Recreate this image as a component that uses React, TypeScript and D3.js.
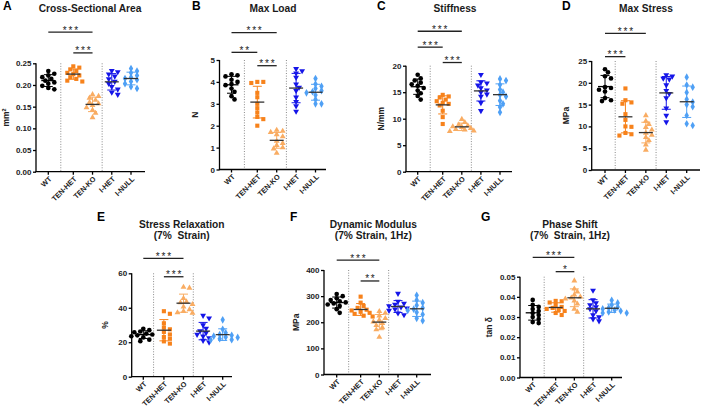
import { useEffect, useRef } from 'react';
import * as d3 from 'd3';

// genotype groups, in plotting order
const groups = ['WT', 'TEN-HET', 'TEN-KO', 'I-HET', 'I-NULL'];
const groupColors = ['#000000', '#F7821B', '#F9AC62', '#1515E8', '#4FA0F5'];
const groupSymbols = [d3.symbolCircle, d3.symbolSquare, d3.symbolTriangle, d3.symbolTriangle, d3.symbolDiamond];

// per-animal measurements, one array per group
const csaValues = [
  [0.232, 0.226, 0.222, 0.218, 0.214, 0.21, 0.206, 0.203, 0.198, 0.193, 0.19],
  [0.243, 0.24, 0.236, 0.232, 0.228, 0.225, 0.222, 0.218, 0.214, 0.21, 0.208],
  [0.178, 0.174, 0.17, 0.165, 0.16, 0.157, 0.153, 0.148, 0.142, 0.135, 0.125],
  [0.233, 0.23, 0.225, 0.22, 0.214, 0.208, 0.203, 0.196, 0.19, 0.183, 0.178],
  [0.238, 0.232, 0.228, 0.222, 0.218, 0.215, 0.212, 0.208, 0.203, 0.196, 0.192],
];
const maxLoadValues = [
  [4.35, 4.3, 4.25, 4.1, 4.0, 3.9, 3.85, 3.7, 3.55, 3.35, 3.2],
  [4.0, 4.0, 3.95, 3.5, 3.3, 3.0, 2.8, 2.6, 2.4, 2.3, 2.0],
  [1.8, 1.75, 1.7, 1.6, 1.5, 1.3, 1.2, 1.1, 1.0, 0.95, 0.75],
  [4.6, 4.5, 4.4, 4.2, 3.9, 3.75, 3.6, 3.3, 3.1, 2.9, 2.65],
  [4.15, 3.9, 3.8, 3.7, 3.6, 3.55, 3.5, 3.4, 3.2, 3.0, 3.0],
];
const stiffnessValues = [
  [18.3, 17.6, 17.2, 16.8, 16.5, 16.2, 15.8, 15.3, 14.8, 14.3, 13.6],
  [14.5, 14.2, 14.0, 13.6, 13.3, 13.0, 12.8, 12.5, 11.5, 10.3, 9.0],
  [9.9, 9.3, 8.9, 8.7, 8.5, 8.4, 8.2, 8.0, 7.9, 7.7, 7.6],
  [18.3, 16.9, 16.7, 16.3, 15.8, 15.4, 15.0, 14.6, 14.2, 13.0, 11.5],
  [17.5, 17.2, 16.4, 15.5, 15.0, 14.5, 14.2, 13.4, 12.8, 12.2, 11.2],
];
const maxStressValues = [
  [23.1, 22.4, 21.5, 21.0, 19.0, 18.8, 18.4, 18.0, 16.5, 16.0, 15.8],
  [18.7, 16.0, 15.5, 15.2, 12.8, 11.5, 10.0, 9.9, 8.5, 8.2, 7.9],
  [12.5, 11.2, 10.5, 9.8, 9.2, 8.5, 8.0, 7.5, 6.8, 5.8, 4.6],
  [21.8, 21.5, 21.0, 20.8, 19.5, 18.2, 17.5, 16.5, 14.2, 12.5, 11.0],
  [21.3, 19.5, 19.0, 17.8, 16.2, 15.6, 15.0, 14.5, 12.5, 10.6, 10.2],
];
const relaxationValues = [
  [27.8, 27.0, 26.2, 25.8, 25.0, 24.5, 24.0, 23.5, 22.8, 21.5, 20.6],
  [38.0, 36.5, 31.0, 28.5, 27.5, 26.0, 24.5, 23.0, 22.0, 20.5, 19.2],
  [52.0, 51.5, 45.5, 43.5, 43.0, 42.0, 40.5, 39.0, 38.0, 37.2, 37.0],
  [35.5, 34.0, 30.0, 28.0, 26.5, 25.5, 24.5, 23.5, 22.5, 21.0, 20.0],
  [33.0, 27.5, 25.5, 24.5, 24.0, 23.5, 23.0, 22.8, 22.0, 21.5, 21.3],
];
const dynModulusValues = [
  [308, 300, 292, 285, 280, 276, 272, 268, 262, 250, 236],
  [298, 275, 262, 255, 248, 245, 240, 236, 232, 225, 222],
  [242, 235, 225, 215, 208, 202, 196, 188, 180, 172, 143],
  [310, 280, 272, 268, 262, 258, 254, 250, 245, 235, 228],
  [303, 285, 275, 265, 255, 250, 245, 238, 230, 215, 206],
];
const phaseShiftValues = [
  [0.0385, 0.036, 0.035, 0.034, 0.033, 0.032, 0.031, 0.03, 0.029, 0.0275, 0.027],
  [0.038, 0.0378, 0.0372, 0.036, 0.035, 0.0345, 0.034, 0.0335, 0.033, 0.032, 0.031],
  [0.048, 0.044, 0.0425, 0.041, 0.04, 0.0395, 0.039, 0.038, 0.0365, 0.034, 0.0325],
  [0.0432, 0.0385, 0.037, 0.036, 0.035, 0.034, 0.033, 0.031, 0.03, 0.029, 0.028],
  [0.0383, 0.037, 0.036, 0.035, 0.0345, 0.034, 0.0335, 0.033, 0.0325, 0.032, 0.032],
];

// significance brackets: [from group, to group, bracket height in data units, label]
const csaSig = [[0, 2, 0.322, '***'], [1, 2, 0.274, '***']];
const maxLoadSig = [[0, 2, 6.25, '***'], [0, 1, 5.35, '**'], [1, 2, 4.74, '***']];
const stiffnessSig = [[0, 2, 26.5, '***'], [0, 1, 23.5, '***'], [1, 2, 20.6, '***']];
const maxStressSig = [[0, 2, 31.35, '***'], [0, 1, 26.0, '***']];
const relaxationSig = [[0, 2, 68.7, '***'], [1, 2, 58.0, '***']];
const dynModulusSig = [[0, 2, 438, '***'], [1, 2, 358, '**']];
const phaseShiftSig = [[0, 2, 0.0596, '***'], [1, 2, 0.0525, '*']];

const panels = [
  { letter: 'A', title: ['Cross-Sectional Area'], yLabel: 'mm', sup: '2', values: csaValues, sig: csaSig, yMax: 0.25, step: 0.05, fmt: '.2f',
    lx: 3, tx: 90, ty: 12, ylx: 9, axisX: 36, top: 63.3, bottom: 171.7, xWT: 48.3, xNULL: 131, gap: 1.3, xEnd: 145 },
  { letter: 'B', title: ['Max Load'], yLabel: 'N', values: maxLoadValues, sig: maxLoadSig, yMax: 5, step: 1, fmt: 'd',
    lx: 192, tx: 273, ty: 12, ylx: 198, axisX: 219.5, top: 60, bottom: 169.5, xWT: 231.5, xNULL: 315.5, gap: 1.33, xEnd: 326 },
  { letter: 'C', title: ['Stiffness'], yLabel: 'N/mm', values: stiffnessValues, sig: stiffnessSig, yMax: 20, step: 5, fmt: 'd',
    lx: 377, tx: 455, ty: 12, ylx: 384, axisX: 406, top: 65.7, bottom: 171.7, xWT: 417.7, xNULL: 500, gap: 1.31, xEnd: 512 },
  { letter: 'D', title: ['Max Stress'], yLabel: 'MPa', values: maxStressValues, sig: maxStressSig, yMax: 25, step: 5, fmt: 'd',
    lx: 562, tx: 646, ty: 12, ylx: 569, axisX: 591.7, top: 61, bottom: 170, xWT: 605, xNULL: 686.7, gap: 1.0, xEnd: 700 },
  { letter: 'E', title: ['Stress Relaxation', '(7%  Strain)'], yLabel: '%', values: relaxationValues, sig: relaxationSig, yMax: 60, step: 20, fmt: 'd',
    lx: 97, tx: 181.7, ty: 228, ylx: 108, axisX: 131.7, top: 273.3, bottom: 376.7, xWT: 143.3, xNULL: 222.7, gap: 1.05, xEnd: 232 },
  { letter: 'F', title: ['Dynamic Modulus', '(7% Strain, 1Hz)'], yLabel: 'MPa', values: dynModulusValues, sig: dynModulusSig, yMax: 400, step: 100, fmt: 'd',
    lx: 290, tx: 373.3, ty: 228, ylx: 299, axisX: 324, top: 270, bottom: 374.5, xWT: 336.7, xNULL: 416.7, gap: 1.28, xEnd: 431 },
  { letter: 'G', title: ['Phase Shift', '(7%  Strain, 1Hz)'], yLabel: 'tan δ', values: phaseShiftValues, sig: phaseShiftSig, yMax: 0.05, step: 0.01, fmt: '.2f',
    lx: 481, tx: 570, ty: 228, ylx: 492, axisX: 520, top: 276.7, bottom: 377.5, xWT: 532.7, xNULL: 611.7, gap: 1.23, xEnd: 622 },
];

const FONT = 'Arial, "Liberation Sans", sans-serif';

// simple beeswarm: push each point sideways until it clears its neighbours
function swarm(ys: number[], dia: number, step: number) {
  const placed: { x: number; y: number }[] = [];
  const order = ys.map((y, i) => i).sort((a, b) => ys[a] - ys[b]);
  const out = new Array(ys.length).fill(0);
  for (const i of order) {
    const y = ys[i];
    for (let k = 0; k < 20; k++) {
      const dx = k === 0 ? 0 : (k % 2 ? 1 : -1) * Math.ceil(k / 2) * step;
      const ok = placed.every((p) => Math.hypot(p.x - dx, p.y - y) >= dia);
      if (ok) {
        out[i] = dx;
        placed.push({ x: dx, y });
        break;
      }
    }
  }
  return out;
}

const App = () => {
  const svgRef = useRef<SVGSVGElement>(null);

  useEffect(() => {
    const svg = d3.select(svgRef.current);
    svg.selectAll('*').remove();

    panels.forEach((p) => {
      const g = svg.append('g');
      const units = [0, p.gap, p.gap + 1, p.gap + 2, p.gap + 3];
      const x = d3.scaleLinear().domain([0, p.gap + 3]).range([p.xWT, p.xNULL]);
      const y = d3.scaleLinear().domain([0, p.yMax]).range([p.bottom, p.top]);

      // panel letter and title
      g.append('text').attr('x', p.lx).attr('y', p.ty - (p.title.length > 1 ? 7.3 : 2))
        .attr('font-family', FONT).attr('font-weight', 'bold').attr('font-size', 12).text(p.letter);
      p.title.forEach((t, i) => {
        g.append('text').attr('x', p.tx).attr('y', p.ty + i * 11).attr('text-anchor', 'middle')
          .attr('font-family', FONT).attr('font-weight', 'bold').attr('font-size', 10.2).attr('fill', '#1a1a1a')
          .style('white-space', 'pre').text(t);
      });

      // group separators
      [p.gap / 2, p.gap + 1.5].forEach((u) => {
        g.append('line').attr('x1', x(u)).attr('x2', x(u)).attr('y1', p.top).attr('y2', p.bottom)
          .attr('stroke', '#8a8a8a').attr('stroke-width', 1).attr('stroke-dasharray', '1,1.6');
      });

      // y axis
      const ticks = d3.range(0, p.yMax + p.step / 2, p.step);
      const yAxis = g.append('g').attr('transform', `translate(${p.axisX},0)`)
        .call(d3.axisLeft(y).tickValues(ticks).tickSize(3).tickPadding(1.5).tickFormat(d3.format(p.fmt)));
      yAxis.select('.domain').attr('stroke-width', 1.3).attr('d', `M0,${p.top}V${p.bottom}`);
      yAxis.selectAll('.tick line').attr('stroke-width', 1.3);
      yAxis.selectAll('text').attr('font-family', FONT).attr('font-weight', 'bold').attr('font-size', 8).attr('fill', '#222');

      // y label
      const yl = g.append('text').attr('transform', `translate(${p.ylx},${(p.top + p.bottom) / 2}) rotate(-90)`)
        .attr('text-anchor', 'middle').attr('font-family', FONT).attr('font-weight', 'bold').attr('font-size', 8.5).attr('fill', '#222');
      yl.append('tspan').text(p.yLabel);
      if (p.sup) yl.append('tspan').attr('baseline-shift', 'super').attr('font-size', 5.5).text(p.sup);

      // x axis
      g.append('line').attr('x1', p.axisX - 0.65).attr('x2', p.xEnd).attr('y1', p.bottom).attr('y2', p.bottom)
        .attr('stroke', '#000').attr('stroke-width', 1.3);
      groups.forEach((name, i) => {
        const cx = x(units[i]);
        g.append('line').attr('x1', cx).attr('x2', cx).attr('y1', p.bottom).attr('y2', p.bottom + 3)
          .attr('stroke', '#000').attr('stroke-width', 1.3);
        g.append('text').attr('transform', `translate(${cx + 2},${p.bottom + 6}) rotate(-45)`)
          .attr('text-anchor', 'end').attr('dy', '0.35em').attr('font-family', FONT).attr('font-weight', 'bold')
          .attr('font-size', 7.3).attr('fill', '#222').text(name);
      });

      // points, mean and SD per group
      p.values.forEach((vals, i) => {
        const cx = x(units[i]);
        const ys = vals.map((v) => y(v));
        const offs = swarm(ys, 4, 3);
        const sym = d3.symbol().type(groupSymbols[i]).size(i === 2 || i === 3 ? 15 : 17);
        vals.forEach((v, j) => {
          const rot = i === 3 ? ' rotate(180)' : '';
          g.append('path').attr('d', sym()).attr('transform', `translate(${cx + offs[j]},${ys[j]})${rot}`)
            .attr('fill', groupColors[i]);
        });
        const m = d3.mean(vals) as number;
        const sd = d3.deviation(vals) as number;
        const col = groupColors[i];
        g.append('line').attr('x1', cx).attr('x2', cx).attr('y1', y(m + sd)).attr('y2', y(m - sd))
          .attr('stroke', col).attr('stroke-width', 1);
        [m + sd, m - sd].forEach((v) => {
          g.append('line').attr('x1', cx - 4.5).attr('x2', cx + 4.5).attr('y1', y(v)).attr('y2', y(v))
            .attr('stroke', col).attr('stroke-width', 1);
        });
        g.append('line').attr('x1', cx - 7).attr('x2', cx + 7).attr('y1', y(m)).attr('y2', y(m))
          .attr('stroke', i === 0 ? '#000' : '#333').attr('stroke-width', 1.3);
      });

      // significance brackets
      p.sig.forEach(([a, b, lvl, label]) => {
        const yy = y(lvl as number);
        const x1 = x(units[a as number]);
        const x2 = x(units[b as number]);
        g.append('line').attr('x1', x1).attr('x2', x2).attr('y1', yy).attr('y2', yy)
          .attr('stroke', '#222').attr('stroke-width', 1.3);
        g.append('text').attr('x', (x1 + x2) / 2 + 0.9).attr('y', yy + 1.5).attr('text-anchor', 'middle')
          .attr('font-family', FONT).attr('font-size', 10).attr('letter-spacing', 1.8).attr('fill', '#222')
          .text(label as string);
      });
    });
  }, []);

  return (
    <svg ref={svgRef} width={702} height={412}
      style={{ position: 'absolute', left: 0, top: 0, background: '#fff', display: 'block' }} />
  );
};

export default App;
